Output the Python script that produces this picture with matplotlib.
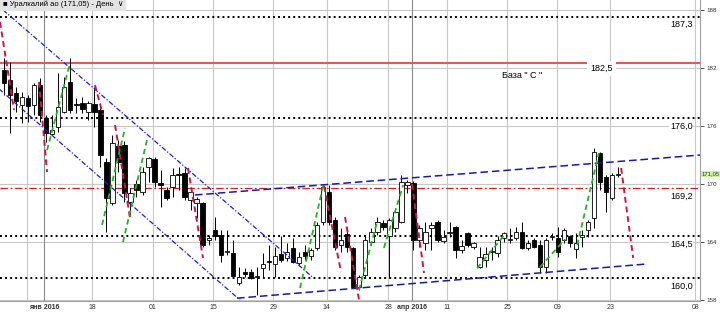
import matplotlib
matplotlib.use("Agg")
import matplotlib.pyplot as plt

plt.rcParams['font.family'] = ['Liberation Sans', 'DejaVu Sans']

# Свечи (дневные), Уралкалий ао, индексы торговых дней
opens = [181.8, 180.76, 179.4, 178.2, 178.9, 178.2, 180.25, 176.8, 175.2, 175.9,
         177.45, 180.55, 178.3, 178.4, 177.45, 178.3, 177.65, 172.3, 168.0, 173.9,
         174.0, 168.15, 170.0, 169.2, 171.8, 172.6, 170.1, 169.4, 169.7, 171.0,
         171.15, 168.35, 168.0, 168.0, 164.2, 165.3, 164.75, 163.0, 162.9, 159.8,
         160.9, 160.9, 160.4, 161.3, 162.0, 161.7, 162.8, 162.35, 163.4, 161.8,
         163.0, 162.55, 163.4, 166.1, 169.2, 166.3, 163.7, 164.85, 163.4, 159.35,
         160.6, 164.0, 165.05, 166.0, 164.6, 165.45, 166.1, 169.9, 170.1, 164.2,
         163.9, 165.45, 166.1, 164.1, 164.95, 165.55, 163.2, 164.95, 163.5, 161.4,
         162.15, 163.0, 162.9, 164.4, 164.2, 164.4, 165.05, 163.4, 164.2, 163.7,
         161.4, 164.5, 164.4, 164.2, 164.6, 163.3, 164.5, 165.25, 166.5, 173.2,
         170.73, 168.55, 170.94]
highs = [183.0, 182.6, 180.0, 179.5, 179.2, 180.45, 181.0, 177.1, 177.1, 181.5,
         181.1, 183.0, 178.9, 179.0, 178.6, 180.0, 178.4, 172.7, 175.1, 174.55,
         174.45, 169.6, 170.4, 171.8, 172.8, 172.8, 171.45, 169.7, 171.65, 171.8,
         171.65, 169.6, 168.7, 168.15, 164.7, 166.6, 165.3, 165.3, 164.2, 161.4,
         161.3, 161.2, 161.4, 162.9, 163.7, 163.5, 164.6, 163.9, 164.4, 163.0,
         163.7, 163.4, 166.1, 169.9, 169.9, 166.6, 165.45, 165.55, 163.5, 160.6,
         164.6, 165.45, 166.6, 166.3, 166.5, 167.5, 170.95, 170.4, 170.3, 165.8,
         166.1, 166.1, 166.3, 165.25, 166.1, 165.65, 164.2, 165.05, 164.0, 163.5,
         163.5, 163.5, 164.6, 165.05, 165.45, 165.55, 166.1, 164.2, 164.4, 164.2,
         164.4, 164.95, 165.55, 165.45, 164.75, 164.95, 165.25, 166.3, 173.7, 173.3,
         170.94, 171.15, 171.8]
lows = [179.2, 175.3, 177.45, 176.3, 176.4, 177.1, 176.4, 174.35, 175.1, 175.4,
        177.3, 177.3, 177.3, 177.3, 176.6, 175.9, 171.8, 165.0, 167.8, 171.25,
        168.15, 166.8, 168.65, 168.9, 170.2, 169.7, 167.6, 168.35, 168.65, 169.4,
        168.35, 167.3, 166.5, 163.5, 163.7, 164.2, 161.95, 162.7, 160.4, 159.55,
        160.4, 160.2, 158.55, 160.4, 161.1, 160.4, 161.9, 162.0, 161.8, 161.6,
        162.15, 162.15, 163.2, 165.8, 165.8, 163.2, 163.0, 163.0, 159.25, 159.0,
        160.4, 163.7, 164.7, 165.25, 160.3, 165.05, 166.0, 169.1, 163.2, 163.5,
        163.2, 163.2, 164.0, 163.9, 164.5, 162.35, 162.9, 163.5, 163.3, 161.3,
        161.4, 162.15, 162.45, 164.0, 163.9, 164.2, 163.3, 163.2, 163.4, 160.8,
        160.8, 164.2, 162.45, 163.9, 163.5, 162.35, 163.5, 164.5, 165.45, 169.4,
        167.1, 168.35, 170.73]
closes = [180.45, 179.2, 178.6, 179.0, 178.1, 180.25, 177.1, 175.3, 175.6, 178.0,
          180.0, 177.65, 178.2, 177.75, 178.4, 177.45, 173.0, 168.55, 174.2, 172.3,
          169.1, 169.1, 169.4, 171.25, 172.7, 170.2, 169.9, 168.55, 170.95, 170.95,
          168.65, 169.2, 168.5, 163.7, 164.4, 164.6, 162.65, 163.1, 160.5, 160.4,
          160.7, 160.3, 160.5, 161.7, 161.9, 162.55, 162.15, 163.0, 161.95, 162.45,
          162.55, 163.2, 165.8, 169.7, 166.1, 163.5, 164.2, 163.5, 159.35, 160.4,
          164.2, 165.05, 166.1, 165.55, 166.3, 167.1, 170.2, 170.2, 164.2, 165.45,
          165.05, 165.8, 164.2, 164.5, 165.05, 163.2, 163.6, 163.7, 163.9, 162.45,
          162.8, 163.1, 164.2, 164.95, 164.3, 165.05, 163.4, 163.9, 163.5, 161.4,
          164.2, 164.6, 163.0, 165.25, 163.9, 163.9, 164.75, 166.1, 173.3, 170.2,
          169.18, 170.94, 171.05]
days = list(range(1, len(opens) + 1))

# Ось дат
grid_x = [4.8, 7.6, 15.6, 25.7, 35.7, 45.7, 54.6, 64.8, 68.8, 74.6, 84.6, 92.9, 101.7, 115.8]
month_x = [7.6, 68.8]
tick_x = [7.6, 15.6, 25.7, 35.7, 45.7, 54.6, 64.8, 68.8, 74.6, 84.6, 92.9, 101.7, 115.8]
tick_labels = ["янв 2016", "18", "01", "15", "29", "14", "28", "апр 2016", "11", "25", "09", "23", "08"]
price_ticks = [158, 164, 170, 176, 182, 188]

# Уровни
dotted_levels = [187.3, 176.8, 164.6, 160.3]
dotted_labels = ["187,3", "176,0", "164,5", "160,0"]
base_level = 182.5
mid_level = 169.6
last_price = 171.05

# Каналы (день, цена)
desc_upper = ([0.83, 52.2], [188.0, 160.4])
desc_lower = ([-1.33, 40.2], [180.66, 158.0])
asc_upper = ([32.7, 118.0], [168.87, 173.07])
asc_lower = ([39.7, 107.8], [158.2, 161.74])

# Волны вниз (красные) и вверх (зелёные)
red_waves = [([0.33, 2.66], [186.76, 177.66]), ([6.81, 8.14], [180.56, 171.25]),
             ([16.1, 17.44], [180.24, 177.14]), ([19.44, 21.93], [176.1, 166.5]),
             ([31.56, 34.05], [171.66, 162.36]), ([54.15, 56.98], [169.8, 160.9]),
             ([57.64, 59.97], [166.6, 158.0]), ([68.77, 70.76], [170.0, 160.8]),
             ([103.5, 105.5], [171.66, 162.36])]
green_waves = [([8.14, 11.96], [173.5, 182.5]), ([17.28, 21.1], [165.77, 175.8]),
               ([20.76, 24.75], [164.0, 174.56]), ([50.17, 53.99], [159.25, 169.8]),
               ([59.97, 62.96], [159.05, 166.1]), ([64.1, 67.3], [163.4, 169.9]),
               ([79.57, 84.2], [161.3, 164.8]), ([90.0, 94.2], [161.4, 164.3]),
               ([96.2, 99.8], [163.7, 173.2])]

fig = plt.figure(figsize=(7.2, 3.15), dpi=100)
ax = fig.add_axes([0, 14 / 315, 700 / 720, 301 / 315])
ax.set_xlim(0.33, 116.6)
ax.set_ylim(157.91, 189.03)

# сетка
for p in price_ticks:
    ax.axhline(p, color='#c8c8c8', lw=0.8, zorder=1)
for gx in grid_x:
    c = '#8a8a8a' if gx in month_x else '#c8c8c8'
    ax.axvline(gx, color=c, lw=0.8, zorder=1)

# уровни
for lv, lb in zip(dotted_levels, dotted_labels):
    ax.axhline(lv, color='black', lw=1.4, ls=(0, (1, 1.6)), zorder=2)
    ax.annotate(lb, xy=(113.5, lv), xytext=(0, -2.5), textcoords='offset points',
                ha='center', va='top', fontsize=6.5,
                bbox=dict(fc='white', ec='none', pad=0.6), zorder=3)
ax.axhline(base_level, color='#e05a5a', lw=1.5, zorder=2)
ax.text(100.2, base_level - 0.55, "182,5", ha='center', va='center', fontsize=6.5,
        bbox=dict(fc='white', ec='none', pad=2.2), zorder=3)
ax.text(87.0, 181.2, 'База " С "', ha='center', va='center', fontsize=6.5, zorder=3)
ax.axhline(mid_level, color='#cc2020', lw=0.9, ls=(0, (6, 2, 1.5, 2)), zorder=2)
ax.annotate("169,2", xy=(113.5, mid_level), xytext=(0, -2.5), textcoords='offset points',
            ha='center', va='top', fontsize=6.5,
            bbox=dict(fc='white', ec='none', pad=0.6), zorder=3)

# свечи
for d, o, h, l, c in zip(days, opens, highs, lows, closes):
    ax.vlines(d, l, h, color='black', lw=0.7, zorder=4)
    fill = 'black' if c < o else 'white'
    lo, hi = min(o, c), max(o, c)
    ax.bar(d, max(hi - lo, 0.08), bottom=lo, width=0.74, color=fill,
           edgecolor='black', linewidth=0.6, zorder=5)

# каналы
for xs, ys in (desc_upper, desc_lower):
    ax.plot(xs, ys, color='#2020c8', lw=0.9, ls=(0, (4, 1.5, 1, 1.5)), zorder=6)
for xs, ys in (asc_upper, asc_lower):
    ax.plot(xs, ys, color='#1a1a9e', lw=1.1, ls=(0, (5, 2.5)), zorder=6)
for xs, ys in red_waves:
    ax.plot(xs, ys, color='#c8184a', lw=1.4, ls=(0, (3, 2)), zorder=6)
for xs, ys in green_waves:
    ax.plot(xs, ys, color='#28b028', lw=1.3, ls=(0, (3, 2)), zorder=6)

# оси
ax.yaxis.tick_right()
ax.set_yticks(price_ticks)
ax.set_yticklabels([str(p) for p in price_ticks])
ax.tick_params(axis='y', labelsize=4.5, length=3, width=0.6, colors='#333333', pad=1.5)
ax.set_xticks(tick_x)
ax.set_xticklabels(tick_labels)
ax.tick_params(axis='x', labelsize=5, length=0, pad=2.5, colors='#333333')
for t in ax.get_xticklabels():
    if '2016' in t.get_text():
        t.set_fontweight('bold')
for s in ['left', 'top']:
    ax.spines[s].set_visible(False)
for s in ['right', 'bottom']:
    ax.spines[s].set_color('#a0a0a0')
    ax.spines[s].set_linewidth(0.8)

# текущая цена
ax.annotate("171,05", xy=(1.0, last_price), xycoords=('axes fraction', 'data'),
            xytext=(1.2, 0), textcoords='offset points', ha='left', va='center',
            fontsize=4.2, color='#333333', annotation_clip=False,
            bbox=dict(fc='#c8f5a0', ec='none', pad=0.5))

# заголовок
ax.text(0.004, 0.997, "■ Уралкалий ао (171,05) - День  ∨", transform=ax.transAxes,
        ha='left', va='top', fontsize=5.5, color='black', zorder=8,
        bbox=dict(fc='#e4e4e4', ec='none', pad=1.8))

fig.savefig('out.png', dpi=100)
